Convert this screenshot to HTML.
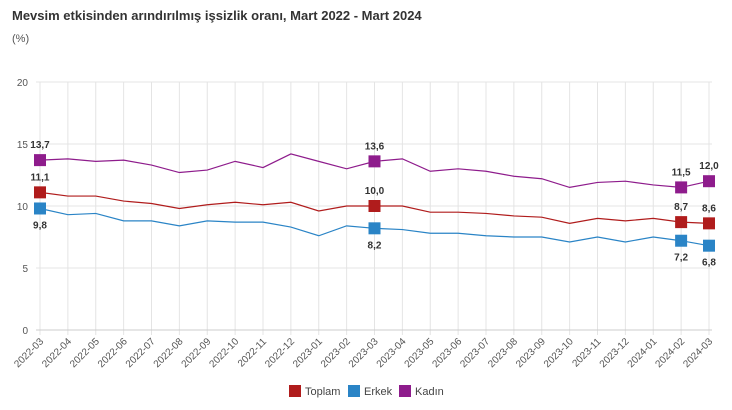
<!DOCTYPE html>
<html><head><meta charset="utf-8"><style>
body{margin:0;background:#fff;width:732px;height:405px;overflow:hidden;font-family:"Liberation Sans",sans-serif}
</style></head><body>
<svg id="c" width="732" height="405" xmlns="http://www.w3.org/2000/svg" font-family="Liberation Sans, sans-serif">
<text x="12" y="20" font-size="13" font-weight="bold" fill="#333">Mevsim etkisinden arındırılmış işsizlik oranı, Mart 2022 - Mart 2024</text>
<text x="12" y="42" font-size="11" fill="#555">(%)</text>
</svg>
<script>
const s=document.getElementById('c'),NS='http://www.w3.org/2000/svg';
function el(t,a,txt){const e=document.createElementNS(NS,t);for(const k in a)e.setAttribute(k,a[k]);if(txt!=null)e.textContent=txt;s.appendChild(e);return e;}
const x0=40,dx=(709-40)/24,y=v=>330-v*12.4,X=i=>x0+i*dx;
for(let i=0;i<=24;i++)el('line',{x1:X(i),x2:X(i),y1:82,y2:335,stroke:'#e4e4e4','stroke-width':1});
for(const v of [0,5,10,15,20]){el('line',{x1:36,x2:712,y1:y(v),y2:y(v),stroke:v?'#e4e4e4':'#ccc'});el('text',{x:28,y:y(v)+4,'font-size':10,fill:'#555','text-anchor':'end'},String(v));}
const lab=['2022-03','2022-04','2022-05','2022-06','2022-07','2022-08','2022-09','2022-10','2022-11','2022-12','2023-01','2023-02','2023-03','2023-04','2023-05','2023-06','2023-07','2023-08','2023-09','2023-10','2023-11','2023-12','2024-01','2024-02','2024-03'];
lab.forEach((l,i)=>el('text',{x:X(i)+4,y:342,'font-size':10,fill:'#555','text-anchor':'end',transform:`rotate(-45 ${X(i)+4} 342)`},l));
const K=[13.7,13.8,13.6,13.7,13.3,12.7,12.9,13.6,13.1,14.2,13.6,13.0,13.6,13.8,12.8,13.0,12.8,12.4,12.2,11.5,11.9,12.0,11.7,11.5,12.0];
const T=[11.1,10.8,10.8,10.4,10.2,9.8,10.1,10.3,10.1,10.3,9.6,10.0,10.0,10.0,9.5,9.5,9.4,9.2,9.1,8.6,9.0,8.8,9.0,8.7,8.6];
const E=[9.8,9.3,9.4,8.8,8.8,8.4,8.8,8.7,8.7,8.3,7.6,8.4,8.2,8.1,7.8,7.8,7.6,7.5,7.5,7.1,7.5,7.1,7.5,7.2,6.8];
const ser=[[T,'#b01c1c',-1],[E,'#2a84c6',1],[K,'#8e1c8c',-1]];
for(const [d,c,dir] of ser){
 el('polyline',{points:d.map((v,i)=>X(i)+','+y(v)).join(' '),fill:'none',stroke:c,'stroke-width':1.2});
 for(const i of [0,12,23,24]){
  el('rect',{x:X(i)-6,y:y(d[i])-6,width:12,height:12,fill:c});
  el('text',{x:X(i),y:dir<0?y(d[i])-12:y(d[i])+20,'font-size':10,'font-weight':'bold',fill:'#333','text-anchor':'middle'},d[i].toFixed(1).replace('.',','));
 }
}
const lg=[['Toplam','#b01c1c',289],['Erkek','#2a84c6',348],['Kadın','#8e1c8c',399]];
for(const [n,c,x] of lg){el('rect',{x:x,y:385,width:12,height:12,fill:c});el('text',{x:x+16,y:395,'font-size':11,fill:'#444'},n);}
</script>
</body></html>
